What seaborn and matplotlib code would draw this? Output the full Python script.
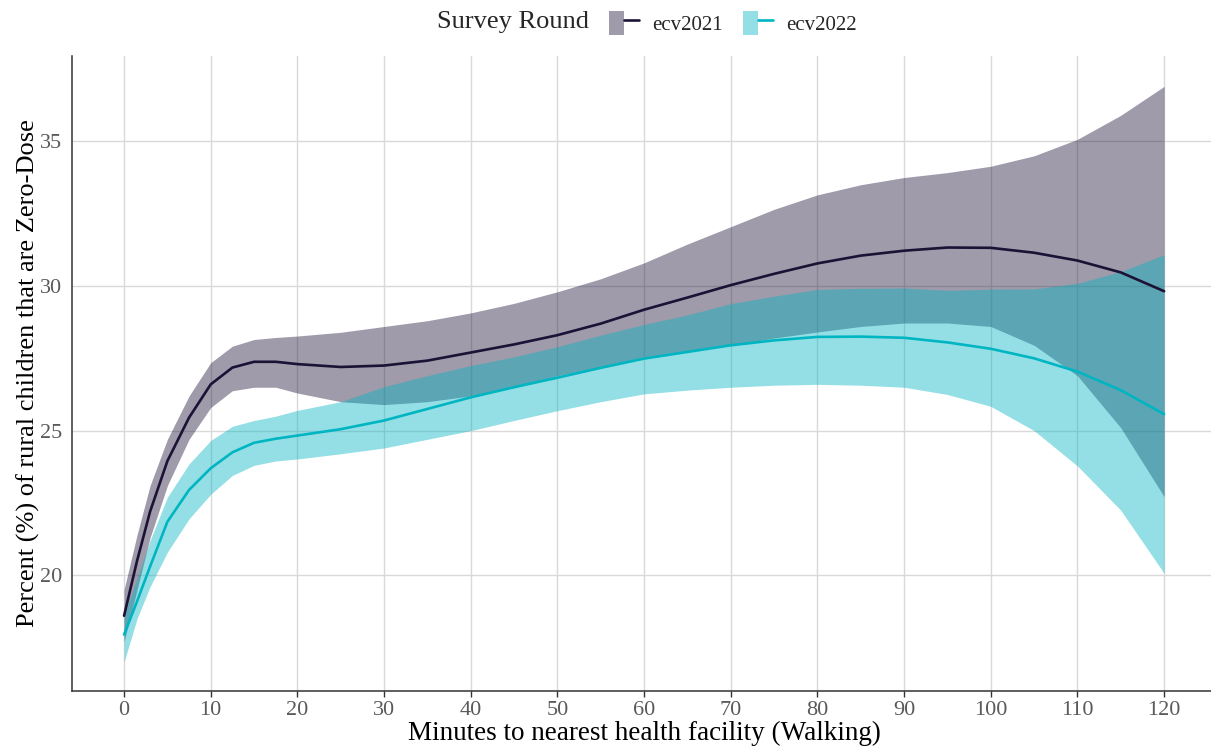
import numpy as np
import pandas as pd
import matplotlib
matplotlib.use("Agg")
import matplotlib.pyplot as plt
import seaborn as sns
from matplotlib.patches import Patch
from matplotlib.lines import Line2D
from matplotlib.legend_handler import HandlerTuple

# minutes walking to nearest facility
minutes = [0, 1.5, 3, 5, 7.5, 10, 12.5, 15, 17.5, 20, 25, 30, 35, 40, 45, 50,
           55, 60, 65, 70, 75, 80, 85, 90, 95, 100, 105, 110, 115, 120]

# ecv2021: smoothed fit and confidence band
fit_2021 = [18.6, 20.5, 22.2, 23.95, 25.45, 26.6, 27.18, 27.38, 27.38, 27.3,
            27.2, 27.25, 27.42, 27.7, 27.98, 28.3, 28.7, 29.18, 29.6, 30.03,
            30.42, 30.78, 31.05, 31.22, 31.33, 31.32, 31.15, 30.88, 30.47, 29.82]
upper_2021 = [19.5, 21.4, 23.1, 24.7, 26.2, 27.35, 27.92, 28.15, 28.22, 28.27,
              28.4, 28.6, 28.8, 29.07, 29.4, 29.8, 30.25, 30.8, 31.45, 32.05,
              32.65, 33.15, 33.5, 33.75, 33.92, 34.14, 34.5, 35.07, 35.9, 36.9]
lower_2021 = [17.7, 19.5, 21.3, 23.1, 24.7, 25.8, 26.38, 26.5, 26.5, 26.3,
              26.0, 25.9, 26.0, 26.2, 26.5, 26.9, 27.2, 27.54, 27.75, 27.95,
              28.2, 28.41, 28.6, 28.72, 28.72, 28.6, 27.95, 26.9, 25.1, 22.72]

# ecv2022: smoothed fit and confidence band
fit_2022 = [17.95, 19.1, 20.3, 21.85, 22.95, 23.7, 24.25, 24.58, 24.72, 24.83,
            25.05, 25.35, 25.75, 26.15, 26.5, 26.83, 27.17, 27.49, 27.72, 27.95,
            28.12, 28.24, 28.25, 28.21, 28.05, 27.83, 27.5, 27.04, 26.4, 25.57]
upper_2022 = [18.6, 19.9, 21.2, 22.7, 23.85, 24.66, 25.15, 25.35, 25.5, 25.7,
              26.0, 26.52, 26.9, 27.25, 27.55, 27.9, 28.3, 28.67, 29.0, 29.39,
              29.65, 29.88, 29.92, 29.93, 29.85, 29.89, 29.9, 30.09, 30.5, 31.08]
lower_2022 = [17.0, 18.5, 19.6, 20.8, 21.95, 22.8, 23.45, 23.8, 23.95, 24.02,
              24.2, 24.4, 24.7, 25.0, 25.35, 25.69, 26.0, 26.27, 26.4, 26.5,
              26.57, 26.6, 26.57, 26.5, 26.25, 25.84, 25.0, 23.78, 22.25, 20.07]

rounds = ["ecv2021", "ecv2022"]
colors = {"ecv2021": "#1b1236", "ecv2022": "#00b5c2"}

data = pd.concat([
    pd.DataFrame({"minutes": minutes, "pct": fit_2021, "lo": lower_2021,
                  "hi": upper_2021, "round": "ecv2021"}),
    pd.DataFrame({"minutes": minutes, "pct": fit_2022, "lo": lower_2022,
                  "hi": upper_2022, "round": "ecv2022"}),
])

sns.set_theme(style="whitegrid")
plt.rcParams["font.family"] = ["Liberation Serif", "DejaVu Serif"]

fig = plt.figure(figsize=(12.11, 7.47), dpi=100)
ax = fig.add_axes([0.0595, 0.075, 0.9447, 0.850])

fill_alpha = 0.42
for r in rounds:
    d = data[data["round"] == r]
    ax.fill_between(d["minutes"], d["lo"], d["hi"], color=colors[r],
                    alpha=fill_alpha, linewidth=0, zorder=2)
    sns.lineplot(data=d, x="minutes", y="pct", color=colors[r], lw=1.9,
                 ax=ax, zorder=3, legend=False)

ax.set_xlim(-6, 126)
ax.set_ylim(16.0, 37.95)
ax.set_xticks(range(0, 121, 10))
ax.set_yticks([20, 25, 30, 35])
ax.grid(True, color="#d9d9d9", lw=1.0)
ax.set_facecolor("white")
for side in ["top", "right"]:
    ax.spines[side].set_visible(False)
for side in ["left", "bottom"]:
    ax.spines[side].set_visible(True)
    ax.spines[side].set_color("#333333")
    ax.spines[side].set_linewidth(1.1)
ax.tick_params(axis="both", which="major", labelsize=16, labelcolor="#5a5a5a",
               length=4, width=1.0, color="#333333", pad=3,
               bottom=True, left=False)

ax.set_xlabel("Minutes to nearest health facility (Walking)", fontsize=19.5,
              color="black", labelpad=1)
ax.set_ylabel("Percent (%) of rural children that are Zero-Dose", fontsize=19,
              color="black", labelpad=0)

# legend across the top
fig.text(437 / 1211, 1 - 22 / 747, "Survey Round", fontsize=19,
         ha="left", va="center")
handles = [(Patch(facecolor=colors[r], alpha=fill_alpha, edgecolor="none"),
            Line2D([], [], color=colors[r], lw=1.9)) for r in rounds]
fig.legend(handles, rounds, handler_map={tuple: HandlerTuple(ndivide=None)},
           loc="center left", bbox_to_anchor=(609 / 1211, 1 - 23 / 747),
           ncol=2, frameon=False, fontsize=15, handlelength=1.45,
           handleheight=1.45, handletextpad=0.6, columnspacing=1.0,
           borderaxespad=0, borderpad=0)

fig.savefig("out.png", dpi=100)
